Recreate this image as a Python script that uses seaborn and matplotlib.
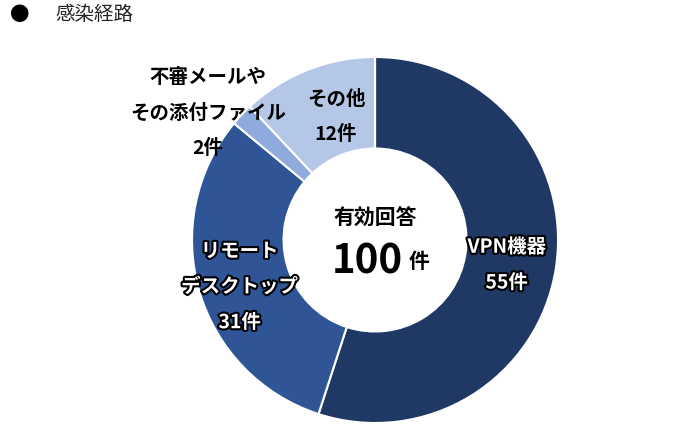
import numpy as np
import matplotlib
matplotlib.use('Agg')
import matplotlib.pyplot as plt
import matplotlib.patheffects as pe
import seaborn as sns

# data
categories = ['VPN機器', 'リモート\nデスクトップ', '不審メールや\nその添付ファイル', 'その他']
counts = [55, 31, 2, 12]
colors = ['#203864', '#2F5597', '#8FAADC', '#B4C7E7']
title = '感染経路'
center_label = '有効回答'
total_unit = '件'

sns.set_theme(style='white')
plt.rcParams['font.family'] = ['Noto Sans CJK JP', 'DejaVu Sans']

fig = plt.figure(figsize=(6.98, 4.25), dpi=100)
ax = fig.add_axes([0.2751, 0.0047, 0.5244, 0.8612])

wedges, _ = ax.pie(counts, colors=colors, startangle=90, counterclock=False,
                   radius=1.0, wedgeprops=dict(width=0.5, edgecolor='white', linewidth=1.5))
ax.set_xlim(-1, 1)
ax.set_ylim(-1, 1)
ax.set_aspect('equal')
ax.axis('off')

outline = [pe.withStroke(linewidth=3, foreground='black')]
# label placement: radius and angle nudge (degrees) per wedge
label_r = [0.733, 0.783, 1.147, 0.705]
nudge = [-1.8, 3.0, 6.0, -4.0]
for w, cat, n, r, dn in zip(wedges, categories, counts, label_r, nudge):
    mid = np.deg2rad((w.theta1 + w.theta2) / 2 + dn)
    x, y = r * np.cos(mid), r * np.sin(mid)
    txt = f'{cat}\n{n}件'
    kw = dict(ha='center', va='center', fontsize=14, fontweight='bold', linespacing=2.1)
    if r > 1:
        ax.text(x, y, txt, color='black', **kw)
    elif w.get_facecolor()[0] < 0.4:
        ax.text(x, y, txt, color='white', path_effects=outline, **kw)
    else:
        ax.text(x, y, txt, color='black', **kw)

ax.text(0, 0.12, center_label, ha='center', va='center', fontsize=15, fontweight='bold',
        color='black')
ax.text(-0.04, -0.12, f'{sum(counts)}', ha='center', va='center', fontsize=29,
        fontweight='bold', color='black')
ax.text(0.24, -0.12, total_unit, ha='center', va='center', fontsize=15,
        fontweight='bold', color='black')

fig.text(20 / 698, 1 - 15 / 425, '●', ha='center', va='center', fontsize=14, color='black')
fig.text(55 / 698, 1 - 15 / 425, title, ha='left', va='center', fontsize=14, color='#222222')

fig.savefig('out.png', dpi=100)
